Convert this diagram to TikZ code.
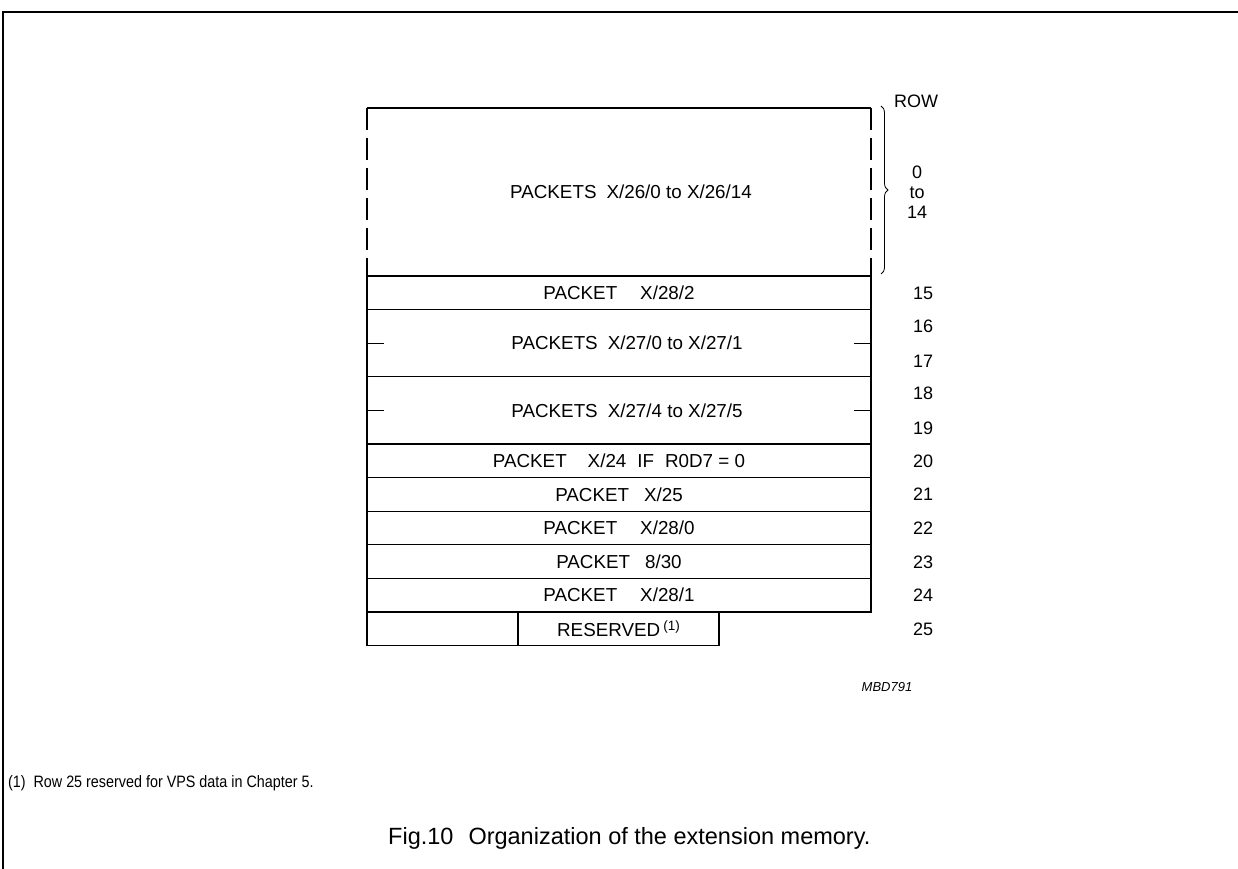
\documentclass[tikz,border=0pt]{standalone}
\usepackage{fontspec}
\setmainfont{Liberation Sans}
\usetikzlibrary{positioning}
\usetikzlibrary{decorations.pathreplacing}
\tikzset{rowbox/.style = {draw, line width=1.2pt, minimum width=504pt,
                          minimum height=33.6pt, inner sep=0pt, outer sep=0pt,
                          font=\fontsize{18.8}{21}\selectfont},
         rownum/.style = {font=\fontsize{18}{20}\selectfont}}

\begin{document}
\begin{tikzpicture}[x=1pt, y=-1pt]
    \useasboundingbox (0,0) rectangle (1238,869);
    \draw [line width=1.2pt] (3,869) -- (3,12) -- (1238,12);
    % rows 0 to 14, open at the sides
    \node (top) at (619,192) [minimum width=504pt, minimum height=168pt, inner sep=0pt, outer sep=0pt,
                              font=\fontsize{18.8}{21}\selectfont] {\hspace{24pt}PACKETS\hspace{10pt}X/26/0 to X/26/14};
    \draw [line width=1.3pt] (top.north west) -- (top.north east);
    \draw [line width=1.2pt, dash pattern=on 22pt off 8pt] (top.north west) -- (top.south west);
    \draw [line width=1.2pt, dash pattern=on 22pt off 8pt] (top.north east) -- (top.south east);
    \draw [line width=0.8pt, decorate, decoration={brace, amplitude=7pt}] (881,106) -- (881,274);
    \node (row) at (916,101) [rownum] {ROW};
    \node (n0) at (917,192) [rownum, align=center] {0\\to\\14};
    % one box per row
    \node (r15) [rowbox, below=0pt of top] {PACKET\hspace{23pt}X/28/2};
    \node (r16) [rowbox, below=0pt of r15, minimum height=67.2pt] {\hspace{16pt}PACKETS\hspace{10pt}X/27/0 to X/27/1};
    \node (r18) [rowbox, below=0pt of r16, minimum height=67.2pt] {\hspace{16pt}PACKETS\hspace{10pt}X/27/4 to X/27/5};
    \node (r20) [rowbox, below=0pt of r18] {PACKET\hspace{21pt}X/24\hspace{11pt}IF\hspace{11pt}R0D7 = 0};
    \node (r21) [rowbox, below=0pt of r20] {PACKET\hspace{15pt}X/25};
    \node (r22) [rowbox, below=0pt of r21] {PACKET\hspace{23pt}X/28/0};
    \node (r23) [rowbox, below=0pt of r22] {PACKET\hspace{15pt}8/30};
    \node (r24) [rowbox, below=0pt of r23] {PACKET\hspace{23pt}X/28/1};
    \node (r25a) [rowbox, minimum width=151pt, anchor=north west] at (r24.south west) {};
    \node (r25) [rowbox, minimum width=201pt, right=0pt of r25a] {RESERVED\,\raisebox{6pt}{\fontsize{13.5}{15}\selectfont(1)}};
    % row marks in the double rows
    \foreach \r in {r16, r18} {
        \draw [line width=1.2pt] (\r.west) -- ++(17,0);
        \draw [line width=1.2pt] (\r.east) -- ++(-17,0);
    }
    \foreach \n/\y in {15/293, 16/326, 17/361, 18/393, 19/428, 20/461,
                       21/494, 22/528, 23/562, 24/595, 25/629}
        \node (n\n) at (923,\y) [rownum] {\n};
    \node (code) at (887,687) {\fontsize{13}{15}\selectfont\itshape MBD791};
    \node (note) at (8,787) [anchor=base west, inner sep=0pt]
        {\scalebox{0.87}[1]{\fontsize{16.5}{18}\selectfont(1)\hspace{9pt}Row 25 reserved for VPS data in Chapter 5.}};
    \node (caption) at (388,844) [anchor=base west, inner sep=0pt, font=\fontsize{23.5}{26}\selectfont]
        {Fig.10\hspace{15pt}Organization of the extension memory.};
\end{tikzpicture}
\end{document}
